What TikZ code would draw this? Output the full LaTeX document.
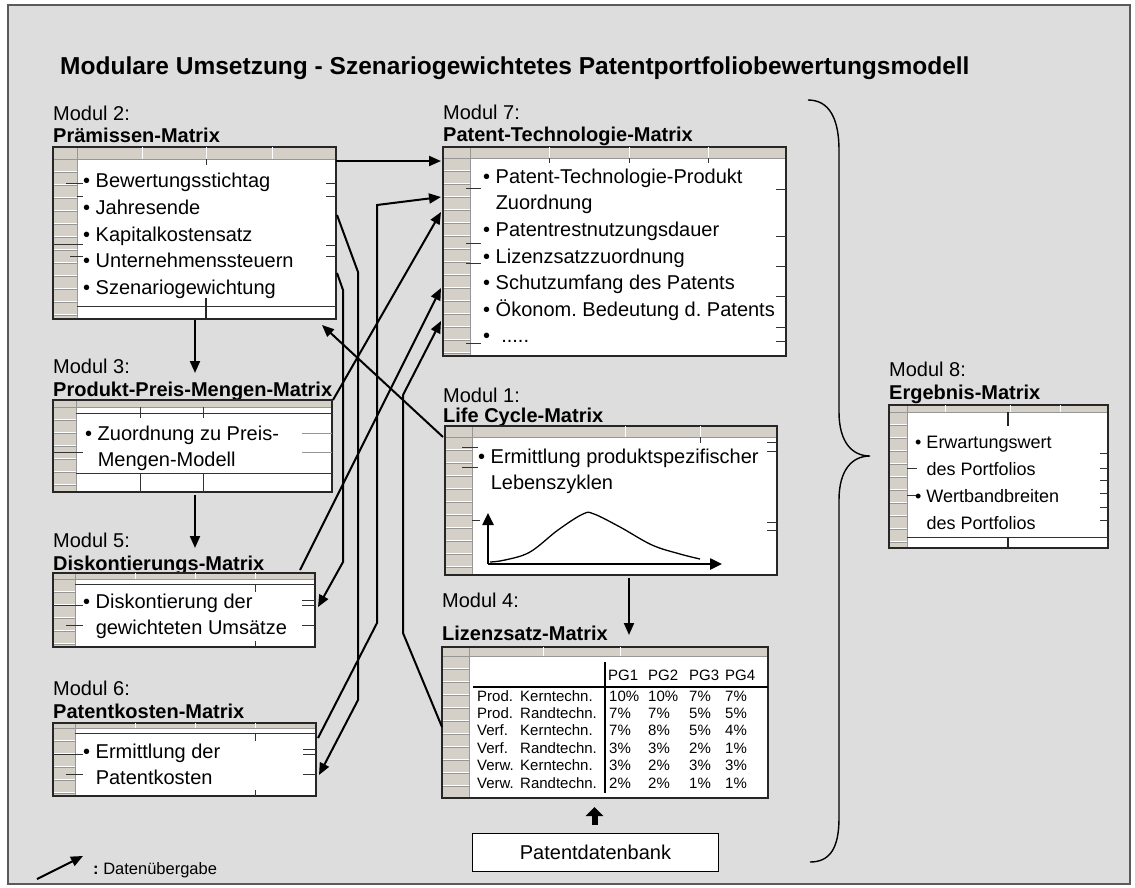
\documentclass[tikz,border=0pt]{standalone}
\usepackage{fontspec}
\setmainfont{Liberation Sans}
\usetikzlibrary{arrows.meta,calc}
\frenchspacing

\definecolor{bggray}{RGB}{221,221,221}
\definecolor{hdrgray}{RGB}{212,208,200}
\definecolor{framegray}{RGB}{90,90,90}
\definecolor{gridgray}{RGB}{150,150,150}

% first-line strut: the top of every list sits 20pt above its first baseline
\newcommand\fl{\rule{0pt}{20pt}}

\tikzset{
  sheet/.style={draw=black!85, line width=1.3pt, fill=white, inner sep=0pt, outer sep=0pt},
  flow/.style={line width=2pt, -{Triangle[length=12pt,width=10pt]}},
  tickline/.style={line width=0.8pt, black!80},
  sepline/.style={line width=1pt, white},
  lbl/.style={anchor=base west, inner sep=0pt, font=\fontsize{20}{24}\selectfont},
  lblb/.style={anchor=base west, inner sep=0pt, font=\fontsize{20}{24}\selectfont\bfseries},
  body/.style={anchor=north west, inner sep=0pt, align=left, font=\fontsize{20}{26.6}\selectfont},
  cell/.style={anchor=base west, inner sep=0pt, font=\fontsize{15}{17}\selectfont},
}

% spreadsheet-like box: name, x, y, width, height, header height, row-header width
\newcommand\sheet[7]{%
  \node[sheet, minimum width=#4pt, minimum height=#5pt, anchor=north west] (#1) at (#2,#3) {};
  \fill[hdrgray] (#2,#3) rectangle ++(#4,#6);
  \fill[hdrgray] (#2,#3) rectangle ++(#7,#5);
  \pgfmathtruncatemacro\nrows{(#5-#6)/13}
  \foreach \k in {1,...,\nrows}{
    \draw[white, line width=0.9pt] (#2,#3+#6+\k*13-1) -- ++(#7,0);
    \draw[gridgray, line width=0.4pt] (#2,#3+#6+\k*13) -- ++(#7,0);
  }
  \draw[gridgray, line width=0.5pt] (#2+#7,#3) -- ++(0,#5);
  \draw[gridgray, line width=0.5pt] (#2,#3+#6) -- ++(#4,0);
  \draw[black!85, line width=1.3pt] (#1.north west) rectangle (#1.south east);
}

\begin{document}
\begin{tikzpicture}[x=1pt, y=-1pt]
\useasboundingbox (0,0) rectangle (1135,887);
\fill[white] (0,0) rectangle (1135,887);
\draw[framegray, line width=2pt, fill=bggray] (8,5) rectangle (1130,884);

% title
\node[anchor=base west, inner sep=0pt, font=\fontsize{24.5}{29}\selectfont\bfseries] (title) at (60,74)
  {Modulare Umsetzung - Szenariogewichtetes Patentportfoliobewertungsmodell};

% ---------- Modul 2 ----------
\node[lbl] (l2a) at (53,120) {Modul 2:};
\node[lblb] (l2b) at (53,142) {Prämissen-Matrix};
\sheet{m2}{53}{147}{283}{172}{12}{24}
\foreach \xx in {142,206,272} \draw[sepline] (\xx,147) -- (\xx,159);
\draw[tickline] (206,159) -- (206,165);
\draw[tickline] (77,306) -- (336,306);
\draw[black!85, line width=1.3pt] (206,298) -- (206,319);
\foreach \yy in {183,196,245,256} \draw[tickline] (326,\yy) -- (336,\yy);
\draw[tickline] (66,183) -- (83,183);
\draw[tickline] (77,196) -- (83,196);
\draw[tickline] (53,244) -- (83,244);
\draw[tickline] (70,256) -- (83,256);
\node[body] (t2) at (83,167.7) {\fl\textbullet\ Bewertungsstichtag\\\textbullet\ Jahresende\\\textbullet\ Kapitalkostensatz\\\textbullet\ Unternehmenssteuern\\\textbullet\ Szenariogewichtung};

% ---------- Modul 3 ----------
\node[lbl] (l3a) at (53,373) {Modul 3:};
\node[lblb] (l3b) at (53,396) {Produkt-Preis-Mengen-Matrix};
\sheet{m3}{53}{400}{279}{92}{7}{23}
\draw[tickline] (76,413) -- (332,413);
\draw[tickline] (76,473) -- (332,473);
\foreach \xx in {140,203} {\draw[tickline] (\xx,407) -- (\xx,418); \draw[tickline] (\xx,473) -- (\xx,492);}
\foreach \yy in {433,452} \draw[gridgray, line width=0.8pt] (302,\yy) -- (332,\yy);
\draw[tickline] (53,452) -- (83,452);
\node[body] (t3) at (85,420) {\fl\textbullet\ Zuordnung zu Preis-\\\hphantom{\textbullet\ }Mengen-Modell};

% ---------- Modul 5 ----------
\node[lbl] (l5a) at (53,547) {Modul 5:};
\node[lblb] (l5b) at (53,570) {Diskontierungs-Matrix};
\sheet{m5}{53}{573}{262}{74}{6}{22}
\draw[tickline] (75,584) -- (315,584);
\foreach \xx in {135,195,255} \draw[sepline] (\xx,573) -- (\xx,579);
\draw[tickline] (255,584) -- (255,592);
\draw[tickline] (255,641) -- (255,647);
\foreach \yy in {600,605,625} \draw[tickline] (302,\yy) -- (315,\yy);
\draw[tickline] (53,605) -- (83,605);
\draw[tickline] (66,625) -- (83,625);
\node[body] (t5) at (83,588) {\fl\textbullet\ Diskontierung der\\\hphantom{\textbullet\ }gewichteten Umsätze};

% ---------- Modul 6 ----------
\node[lbl] (l6a) at (53,695) {Modul 6:};
\node[lblb] (l6b) at (53,718) {Patentkosten-Matrix};
\sheet{m6}{53}{723}{263}{73}{5}{22}
\draw[tickline] (75,733) -- (316,733);
\foreach \xx in {135,195,255} \draw[sepline] (\xx,723) -- (\xx,728);
\draw[tickline] (255,733) -- (255,741);
\draw[tickline] (255,790) -- (255,796);
\foreach \yy in {749,754,774} \draw[tickline] (303,\yy) -- (316,\yy);
\draw[tickline] (53,754) -- (83,754);
\draw[tickline] (66,774) -- (83,774);
\node[body] (t6) at (83,738) {\fl\textbullet\ Ermittlung der\\\hphantom{\textbullet\ }Patentkosten};

% ---------- Modul 7 ----------
\node[lbl] (l7a) at (443,119) {Modul 7:};
\node[lblb] (l7b) at (443,141) {Patent-Technologie-Matrix};
\sheet{m7}{443}{147}{343}{209}{11}{27}
\foreach \xx in {549,629,708} {\draw[sepline] (\xx,147) -- (\xx,158); \draw[tickline] (\xx,158) -- (\xx,163);}
\foreach \yy in {189,236,266,296,327,341} \draw[tickline] (776,\yy) -- (786,\yy);
\foreach \yy in {188,243,263,343} \draw[tickline] (466,\yy) -- (481,\yy);
\node[body] (t7) at (483,163) {\fl\textbullet\ Patent-Technologie-Produkt\\\hphantom{\textbullet\ }Zuordnung\\\textbullet\ Patentrestnutzungsdauer\\\textbullet\ Lizenzsatzzuordnung\\\textbullet\ Schutzumfang des Patents\\\textbullet\ Ökonom. Bedeutung d. Patents\\\textbullet\ \ .....};

% ---------- Modul 1 ----------
\node[lbl] (l1a) at (443,402) {Modul 1:};
\node[lblb] (l1b) at (443,422) {Life Cycle-Matrix};
\sheet{m1}{445}{426}{332}{149}{11}{27}
\foreach \xx in {625,700} \draw[sepline] (\xx,426) -- (\xx,437);
\draw[tickline] (700,437) -- (700,443);
\foreach \yy in {442,451,522,530} \draw[tickline] (767,\yy) -- (777,\yy);
\foreach \yy in {447,467} \draw[tickline] (462,\yy) -- (478,\yy);
\draw[tickline] (472,520) -- (480,520);
\node[body] (t1) at (478,443) {\fl\textbullet\ Ermittlung produktspezifischer\\\hphantom{\textbullet\ }Lebenszyklen};
% life cycle curve
\coordinate (ax0) at (488,564);
\coordinate (axy) at (488,513);
\coordinate (axx) at (722,564);
\draw[line width=2.5pt, -{Triangle[length=12pt,width=11pt]}] (ax0) -- (axy);
\draw[line width=2.5pt, -{Triangle[length=12pt,width=11pt]}] (ax0) -- (axx);
\draw[line width=1.3pt] plot[smooth, tension=0.6] coordinates {(490,562) (505,560) (530,552) (558,530) (583,514) (594,514) (620,527) (652,545) (680,554) (700,559)};

% ---------- Modul 4 ----------
\node[lbl] (l4a) at (442,607) {Modul 4:};
\node[lblb] (l4b) at (442,640) {Lizenzsatz-Matrix};
\sheet{m4}{442}{647}{326}{151}{9}{27}
\foreach \xx in {543,620} \draw[sepline] (\xx,647) -- (\xx,656);
\draw[line width=2pt] (605,662) -- (605,793);
\draw[line width=2.5pt] (473,687) -- (768,687);
\foreach \pg/\xx in {PG1/608,PG2/648,PG3/689,PG4/725} \node[cell] (h\pg) at (\xx,680) {\pg};
\foreach \wa/\wb/\va/\vb/\vc/\vd [count=\i] in {
  Prod./Kerntechn./10\%/10\%/7\%/7\%,
  Prod./Randtechn./7\%/7\%/5\%/5\%,
  Verf./Kerntechn./7\%/8\%/5\%/4\%,
  Verf./Randtechn./3\%/3\%/2\%/1\%,
  Verw./Kerntechn./3\%/2\%/3\%/3\%,
  Verw./Randtechn./2\%/2\%/1\%/1\%}{
  \pgfmathsetmacro\yy{701+(\i-1)*17.4}
  \node[cell] (ra\i) at (477,\yy) {\wa};
  \node[cell] (rb\i) at (520,\yy) {\wb};
  \node[cell] (va\i) at (609,\yy) {\va};
  \node[cell] (vb\i) at (648,\yy) {\vb};
  \node[cell] (vc\i) at (689,\yy) {\vc};
  \node[cell] (vd\i) at (725,\yy) {\vd};
}

% ---------- Patentdatenbank ----------
\node[draw=black, line width=1pt, fill=white, minimum width=246pt, minimum height=38pt, anchor=north west,
      inner sep=0pt, font=\fontsize{20}{24}\selectfont] (pdb) at (472,833) {Patentdatenbank};
\draw[line width=6pt, -{Triangle[length=9pt,width=17pt]}] ($(pdb.north)+(-1,-8)$) -- ($(pdb.north |- m4.south)+(-1,9)$);

% ---------- Modul 8 ----------
\node[lbl] (l8a) at (889,376) {Modul 8:};
\node[lblb] (l8b) at (889,399) {Ergebnis-Matrix};
\sheet{m8}{889}{405}{219}{143}{7}{18}
\foreach \xx in {945,1010,1060} \draw[sepline] (\xx,405) -- (\xx,412);
\draw[tickline] (907,537) -- (1108,537);
\draw[black!85, line width=1.3pt] (1008,537) -- (1008,548);
\draw[black!85, line width=1.3pt] (1008,412) -- (1008,426);
\foreach \yy in {453,468,480,493,507,520} \draw[tickline] (1100,\yy) -- (1108,\yy);
\foreach \yy in {468,495} \draw[tickline] (907,\yy) -- (917,\yy);
\node[body, font=\fontsize{18}{27}\selectfont] (t8) at (915,428) {\fl\textbullet\ Erwartungswert\\\hphantom{\textbullet\ }des Portfolios\\\textbullet\ Wertbandbreiten\\\hphantom{\textbullet\ }des Portfolios};

% ---------- brace ----------
\draw[line width=1.4pt] (808,100) .. controls (830,100) and (839,120) .. (839,150) -- (839,412)
  .. controls (839,442) and (852,456) .. (870,456) .. controls (852,456) and (839,470) .. (839,500)
  -- (839,818) .. controls (839,848) and (830,862) .. (810,862);

% ---------- connectors ----------
% vertical flow in the left column
\draw[flow] ($(m2.south west)+(142,1)$) -- ($(m3.north west)+(142,-27)$);
\draw[flow] ($(m3.south west)+(142,3)$) -- ($(m5.north west)+(142,-25)$);
\draw[flow] ($(m1.south west)+(184,3)$) -- ($(m4.north west)+(187,-12)$);
% Modul 2 -> Modul 7
\draw[flow] ($(m2.north east)+(0,14)$) -- ($(m7.north west)+(-2,14)$);
% Modul 6 -> Modul 7
\draw[flow] ($(m6.north east)+(2,15)$) -- (377,623) -- (377,205) -- ($(m7.north west)+(-2,50)$);
% Modul 2 -> Modul 6
\draw[flow] ($(m2.north east)+(1,68)$) -- (358,272) -- (358,700) -- ($(m6.north east)+(3,52)$);
% Modul 2 -> Modul 5
\draw[flow] ($(m2.north east)+(1,126)$) -- (343,290) -- (343,562) -- ($(m5.north east)+(3,34)$);
% Modul 3 -> Modul 7
\draw[flow] ($(m3.north east)+(1,0)$) -- ($(m7.north west)+(-2,65)$);
% Modul 5 -> Modul 7
\draw[flow] ($(m5.north east)+(-15,-3)$) -- ($(m7.north west)+(-2,141)$);
% Modul 4 -> Modul 7
\draw[flow] ($(m4.north west)+(0,80)$) -- (403,633) -- (403,395) -- ($(m7.north west)+(-2,174)$);
% Modul 1 -> Modul 2
\draw[flow] ($(m1.north west)+(-2,11)$) -- ($(m2.south east)+(-14,6)$);

% ---------- legend ----------
\coordinate (lg1) at (37,879);
\coordinate (lg2) at (83,856);
\draw[flow] (lg1) -- (lg2);
\node[anchor=base west, inner sep=0pt, font=\fontsize{16.5}{20}\selectfont] (lgt) at (93,874) {\textbf{:} Datenübergabe};
\end{tikzpicture}
\end{document}
